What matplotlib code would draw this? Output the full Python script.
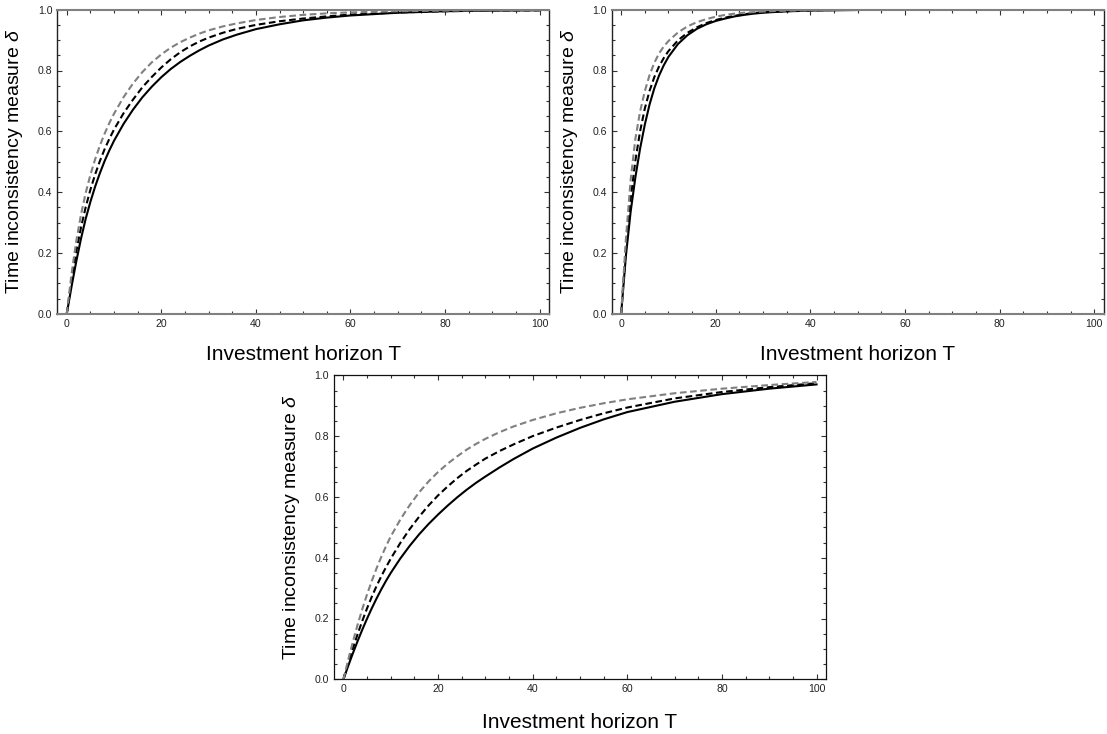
import matplotlib
matplotlib.use("Agg")
import matplotlib.pyplot as plt
from matplotlib.ticker import MultipleLocator, FormatStrFormatter

plt.rcParams['font.family'] = ['Liberation Sans', 'DejaVu Sans']
plt.rcParams['mathtext.fontset'] = 'custom'
plt.rcParams['mathtext.it'] = 'Liberation Sans:italic'
plt.rcParams['mathtext.rm'] = 'Liberation Sans'

# ---- data ----
T = [0, 1, 2, 3, 4, 5, 6, 7, 8, 9, 10, 12, 14, 16, 18, 20, 22, 24, 26, 28, 30,
     33, 36, 40, 45, 50, 55, 60, 70, 80, 90, 100]

# panel 1 (top left)
p1_solid = [0, 0.088, 0.171, 0.246, 0.312, 0.368, 0.418, 0.462, 0.502, 0.537, 0.569,
            0.624, 0.671, 0.712, 0.747, 0.778, 0.805, 0.828, 0.848, 0.866, 0.882,
            0.902, 0.918, 0.936, 0.952, 0.965, 0.974, 0.981, 0.990, 0.995, 0.997, 0.998]
p1_dash = [0, 0.108, 0.203, 0.283, 0.350, 0.408, 0.458, 0.502, 0.541, 0.575, 0.606,
           0.659, 0.704, 0.745, 0.779, 0.810, 0.837, 0.860, 0.879, 0.895, 0.908,
           0.924, 0.937, 0.950, 0.962, 0.971, 0.978, 0.984, 0.991, 0.995, 0.997, 0.998]
p1_gray = [0, 0.130, 0.238, 0.325, 0.397, 0.457, 0.508, 0.553, 0.592, 0.627, 0.658,
           0.712, 0.757, 0.795, 0.827, 0.853, 0.875, 0.893, 0.908, 0.921, 0.932,
           0.945, 0.955, 0.966, 0.976, 0.983, 0.988, 0.991, 0.995, 0.997, 0.998, 0.999]

# panel 2 (top right)
p2_solid = [0, 0.190, 0.335, 0.448, 0.543, 0.622, 0.688, 0.741, 0.783, 0.817, 0.845,
            0.887, 0.916, 0.937, 0.952, 0.963, 0.971, 0.978, 0.983, 0.987, 0.990,
            0.993, 0.995, 0.997, 0.998, 0.999, 1.0, 1.0, 1.0, 1.0, 1.0, 1.0]
p2_dash = [0, 0.215, 0.377, 0.503, 0.600, 0.675, 0.733, 0.778, 0.813, 0.841, 0.864,
           0.899, 0.924, 0.942, 0.956, 0.966, 0.974, 0.980, 0.985, 0.989, 0.992,
           0.994, 0.996, 0.998, 0.999, 1.0, 1.0, 1.0, 1.0, 1.0, 1.0, 1.0]
p2_gray = [0, 0.245, 0.440, 0.575, 0.665, 0.732, 0.785, 0.825, 0.856, 0.879, 0.897,
           0.925, 0.945, 0.959, 0.969, 0.977, 0.983, 0.987, 0.990, 0.992, 0.994,
           0.996, 0.997, 0.998, 0.999, 1.0, 1.0, 1.0, 1.0, 1.0, 1.0, 1.0]

# panel 3 (bottom)
p3_solid = [0, 0.044, 0.086, 0.126, 0.164, 0.200, 0.234, 0.266, 0.296, 0.324, 0.350,
            0.397, 0.439, 0.477, 0.511, 0.542, 0.571, 0.598, 0.623, 0.646, 0.667,
            0.697, 0.725, 0.759, 0.795, 0.827, 0.855, 0.879, 0.913, 0.938, 0.956, 0.970]
p3_dash = [0, 0.052, 0.102, 0.149, 0.193, 0.234, 0.272, 0.307, 0.339, 0.369, 0.397,
           0.448, 0.494, 0.535, 0.572, 0.605, 0.634, 0.661, 0.685, 0.706, 0.726,
           0.751, 0.773, 0.800, 0.828, 0.853, 0.875, 0.894, 0.924, 0.945, 0.961, 0.974]
p3_gray = [0, 0.064, 0.124, 0.180, 0.232, 0.280, 0.324, 0.365, 0.403, 0.438, 0.470,
           0.525, 0.573, 0.615, 0.651, 0.682, 0.709, 0.733, 0.755, 0.774, 0.791,
           0.813, 0.832, 0.853, 0.875, 0.893, 0.908, 0.921, 0.941, 0.956, 0.968, 0.978]

xlabel = "Investment horizon T"
ylabel = r"Time inconsistency measure $\delta$"

W, H = 1107, 734
fig = plt.figure(figsize=(W / 100, H / 100), dpi=100)

def px_axes(left, top, right, bottom):
    return fig.add_axes([left / W, 1 - bottom / H, (right - left) / W, (bottom - top) / H])

ax1 = px_axes(57.3, 9.7, 549, 313.7)
ax2 = px_axes(611.7, 9.7, 1103.7, 313.7)
ax3 = px_axes(334, 375.3, 826, 679.3)

panels = [(ax1, p1_solid, p1_dash, p1_gray, True, -0.103),
          (ax2, p2_solid, p2_dash, p2_gray, True, -0.103),
          (ax3, p3_solid, p3_dash, p3_gray, False, -0.11)]

for ax, s, d, g, top_panel, xl_y in panels:
    ax.plot(T, s, color='black', lw=1.5, solid_joinstyle='round')
    ax.plot(T, d, color='black', lw=1.5, dashes=(3.2, 1.7))
    ax.plot(T, g, color='#808080', lw=1.5, dashes=(3.2, 1.7))
    ax.set_xlim(-2, 102)
    ax.set_ylim(0, 1)
    ax.xaxis.set_major_locator(MultipleLocator(20))
    ax.xaxis.set_minor_locator(MultipleLocator(5))
    ax.yaxis.set_major_locator(MultipleLocator(0.2))
    ax.yaxis.set_minor_locator(MultipleLocator(0.05))
    ax.yaxis.set_major_formatter(FormatStrFormatter('%.1f'))
    ax.tick_params(which='both', direction='in', top=True, right=True, color='#333333',
                   width=0.8, labelsize=7.6, labelcolor='#222222', pad=3.5)
    ax.tick_params(which='major', length=3.8)
    ax.tick_params(which='minor', length=2.3)
    if top_panel:
        for side in ('left', 'right'):
            ax.spines[side].set_color('#222222')
            ax.spines[side].set_linewidth(1.0)
        for side in ('top', 'bottom'):
            ax.spines[side].set_color('#808080')
            ax.spines[side].set_linewidth(1.5)
    else:
        for side in ax.spines:
            ax.spines[side].set_color('#111111')
            ax.spines[side].set_linewidth(0.9)
    ax.set_xlabel(xlabel, fontsize=15)
    ax.set_ylabel(ylabel, fontsize=14)
    ax.xaxis.set_label_coords(0.5, xl_y)
    ax.yaxis.set_label_coords(-0.065, 0.5)

fig.savefig("out.png", dpi=100)
